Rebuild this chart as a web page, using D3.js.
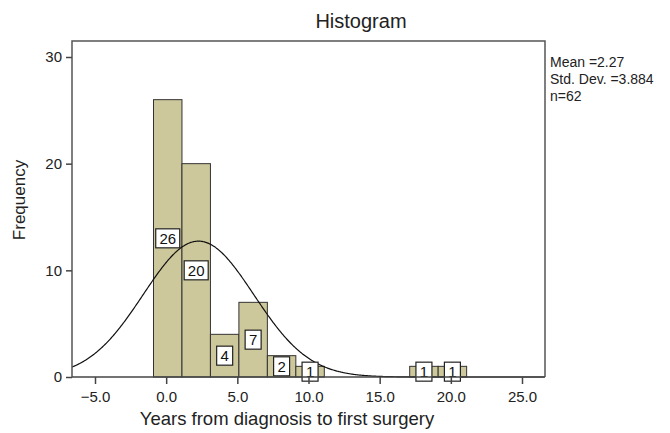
<!DOCTYPE html>
<html><head><meta charset="utf-8">
<script src="https://cdn.jsdelivr.net/npm/d3@7"></script>
<style>body{margin:0;background:#fff}svg{display:block;font-family:"Liberation Sans",Arial,sans-serif}</style>
</head><body><svg id="c" width="670" height="433"></svg>
<script>
const binStarts = [-0.89, 1.11, 3.11, 5.11, 7.11, 9.11, 17.11, 19.11];
const binWidth = 2.0;
const counts = [26, 20, 4, 7, 2, 1, 1, 1];
const xTicks = [-5, 0, 5, 10, 15, 20, 25];
const yTicks = [0, 10, 20, 30];
const stats = ["Mean =2.27", "Std. Dev. =3.884", "n=62"];
const mean = 2.27, sd = 3.884, n = 62;

const svg = d3.select("#c");
const L = 72, R = 545, T = 41, B = 377;
const x = d3.scaleLinear().domain([-5, 25]).range([95, 522]);
const xDom = [x.invert(L), x.invert(R)];
const y = d3.scaleLinear().domain([0, 30]).range([B, 57]);

// bars
const bars = binStarts.map((s, i) => ({s, c: counts[i]}));
svg.selectAll("rect.bar").data(bars).enter().append("rect")
  .attr("x", d => x(d.s)).attr("width", d => x(d.s + binWidth) - x(d.s))
  .attr("y", d => y(d.c)).attr("height", d => y(0) - y(d.c))
  .attr("fill", "#cdc89b").attr("stroke", "#333").attr("stroke-width", 1);

// normal curve
const pts = d3.range(xDom[0], xDom[1] + 0.001, 0.05).map(v =>
  [v, n * binWidth / (sd * Math.sqrt(2 * Math.PI)) * Math.exp(-0.5 * ((v - mean) / sd) ** 2)]);
svg.append("path").datum(pts)
  .attr("d", d3.line().x(d => x(d[0])).y(d => y(d[1])))
  .attr("fill", "none").attr("stroke", "#111").attr("stroke-width", 1.2);

// value labels
const lab = svg.selectAll("g.lab").data(bars).enter().append("g")
  .attr("transform", d => `translate(${x(d.s + binWidth / 2)},${y(d.c / 2)})`);
lab.append("rect")
  .attr("x", d => d.c >= 10 ? -12 : -8).attr("width", d => d.c >= 10 ? 24 : 16)
  .attr("y", -9.5).attr("height", 19)
  .attr("fill", "#fff").attr("stroke", "#222").attr("stroke-width", 1.2);
lab.append("text").text(d => d.c).attr("text-anchor", "middle").attr("dy", "0.36em")
  .attr("font-size", 15).attr("fill", "#111");

// frame
svg.append("path").attr("d", `M${L},${B}V${T}H${R}V${B}`)
  .attr("fill", "none").attr("stroke", "#555").attr("stroke-width", 1.5);
svg.append("line").attr("x1", L).attr("x2", R).attr("y1", B).attr("y2", B)
  .attr("stroke", "#444").attr("stroke-width", 1.5);

// y axis
const ya = svg.append("g").attr("transform", `translate(${L},0)`)
  .call(d3.axisLeft(y).tickValues(yTicks).tickSize(6).tickPadding(4));
ya.select(".domain").remove();
ya.selectAll("line").attr("stroke", "#444").attr("stroke-width", 1.5);
ya.selectAll("text").attr("font-size", 15).attr("fill", "#222").attr("font-family", "Liberation Sans, Arial");

// x axis
const xa = svg.append("g").attr("transform", `translate(0,${B})`)
  .call(d3.axisBottom(x).tickValues(xTicks).tickFormat(d3.format(".1f")).tickSize(7).tickPadding(7));
xa.select(".domain").remove();
xa.selectAll("line").attr("stroke", "#444").attr("stroke-width", 1.5);
xa.selectAll("text").attr("font-size", 15).attr("fill", "#222").attr("font-family", "Liberation Sans, Arial");

// titles
svg.append("text").attr("x", 361).attr("y", 28).attr("text-anchor", "middle")
  .attr("font-size", 20).attr("fill", "#222").text("Histogram");
svg.append("text").attr("x", 287).attr("y", 425).attr("text-anchor", "middle")
  .attr("font-size", 18.5).attr("fill", "#222").text("Years from diagnosis to first surgery");
svg.append("text").attr("transform", "translate(25,200) rotate(-90)").attr("text-anchor", "middle")
  .attr("font-size", 17).attr("fill", "#222").text("Frequency");

svg.selectAll("text.st").data(stats).enter().append("text")
  .attr("x", 550).attr("y", (d, i) => 67 + i * 17).attr("font-size", 14).attr("fill", "#222").text(d => d);
</script></body></html>
